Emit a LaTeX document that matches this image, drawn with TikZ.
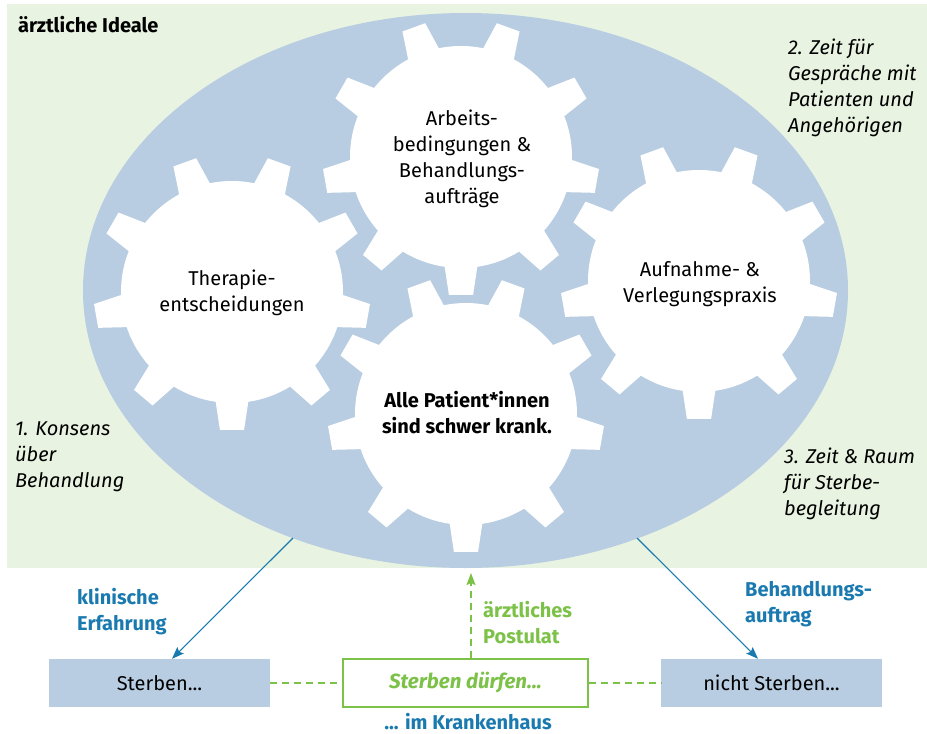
\documentclass[tikz,border=0pt]{standalone}
\usepackage{fontspec}
\setmainfont{Fira Sans}
\usepackage{xcolor}
\usepackage{tikz}
\usetikzlibrary{arrows.meta}
\definecolor{idealgreen}{HTML}{E8F3E1}
\definecolor{gearblue}{HTML}{B8CDE2}
\definecolor{deepblue}{HTML}{1A7AAF}
\definecolor{lightgreen}{HTML}{7CC148}

\begin{document}
\begin{tikzpicture}[x=1pt,y=-1pt,
	txt/.style={inner sep=0pt,font=\fontsize{20}{26}\selectfont},
	gtxt/.style={txt,align=center,anchor=base},
	ntxt/.style={txt,align=left,anchor=base west,font=\fontsize{20}{26}\selectfont\itshape},
	ltxt/.style={txt,align=left,anchor=base west,font=\fontsize{20}{26}\selectfont\bfseries},
	bbox/.style={txt,minimum width=221pt,minimum height=48pt,fill=gearblue}]
		\useasboundingbox (0,0) rectangle (927,734);
		\fill[idealgreen] (7,4) rectangle (927,568);
		\fill[gearblue] (465.5,290.5) ellipse [x radius=382.5,y radius=277.5];
		% gears
		\foreach \gx/\gy in {232/292,461/157,699/281,466/414}{
			\begin{scope}[shift={(\gx,\gy)}]
				\fill[white] (0,0) circle (111);
				\foreach \a in {90,130,...,410}
					\fill[white] (\a-10:102) -- (\a-5:138.5) -- (\a+5:138.5) -- (\a+10:102) -- cycle;
			\end{scope}
		}
		% texts (base = last line)
		\node[ltxt] (ideale) at (18,32) {ärztliche Ideale};
		\node[gtxt] (arb) at (462,203) {Arbeits-\\bedingungen \&\\Behandlungs-\\aufträge};
		\node[gtxt] (ther) at (232,311) {Therapie-\\entscheidungen};
		\node[gtxt] (aufn) at (700,302) {Aufnahme- \&\\Verlegungspraxis};
		\node[gtxt,font=\fontsize{20}{26}\selectfont\bfseries] (alle) at (467,433) {Alle Patient*innen\\sind schwer krank.};
		\node[ntxt] (zeit) at (788,132) {2. Zeit für\\Gespräche mit\\Patienten und\\Angehörigen};
		\node[ntxt] (kons) at (15,487) {1. Konsens\\über\\Behandlung};
		\node[ntxt] (raum) at (784,515) {3. Zeit \& Raum\\für Sterbe-\\begleitung};
		%
		\node[bbox] (S) at (159.5,683) {Sterben...};
		\node[bbox] (N) at (771.5,683) {nicht Sterben...};
		\node[txt,minimum width=245pt,minimum height=48pt,draw=lightgreen,line width=1.5pt,fill=white,
			text=lightgreen,font=\fontsize{20.5}{26}\selectfont\bfseries\itshape] (M) at (465.5,683) {Sterben dürfen...};
		\node[txt,anchor=base,text=deepblue,font=\fontsize{20}{26}\selectfont\bfseries] (kh) at (468,729) {... im Krankenhaus};
		\node[ltxt,text=deepblue] (klin) at (77,630) {klinische\\Erfahrung};
		\node[ltxt,text=deepblue] (auftr) at (745,622) {Behandlungs-\\auftrag};
		\node[ltxt,text=lightgreen] (post) at (483,643) {ärztliches\\Postulat};
		\coordinate (el) at (293,538);
		\coordinate (er) at (637,538);
		\coordinate (eb) at (471,573);
		%
		\path[-{Stealth[length=12pt,width=9pt,inset=2pt]},line width=1.1pt,deepblue]
		% blue arrows
		(el) edge ([xshift=12.5]S.north)
		(er) edge ([xshift=-13.5]N.north);
		\path[lightgreen,line width=1.5pt,dash pattern=on 7pt off 5pt]
		% dashed links
		(S) edge (M)
		(M) edge (N)
		([xshift=5.5]M.north) edge[-{Stealth[length=12pt,width=9pt,inset=2pt]}] (eb);
	\end{tikzpicture}
\end{document}
